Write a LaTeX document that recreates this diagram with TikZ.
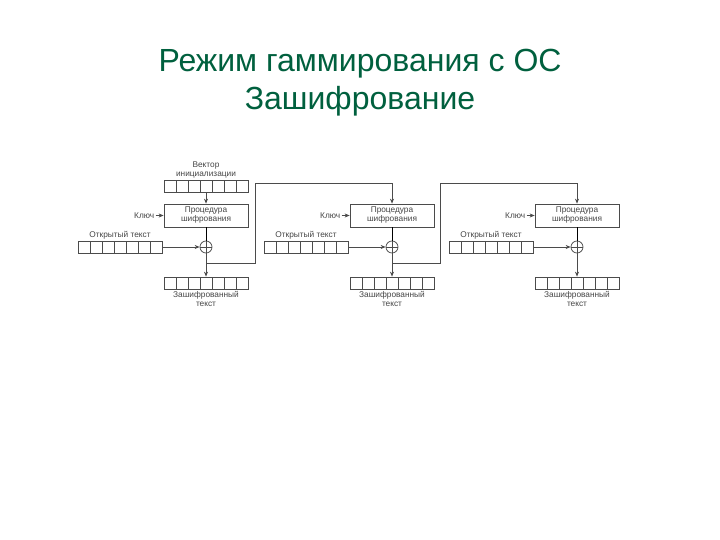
\documentclass[tikz,border=0pt]{standalone}
\usepackage{fontspec}
\setmainfont{Liberation Sans}
\usetikzlibrary{arrows.meta,positioning}
\definecolor{titlegreen}{RGB}{0,96,62}
\definecolor{linegray}{RGB}{75,75,75}
\definecolor{textgray}{RGB}{70,70,70}

\begin{document}
\begin{tikzpicture}[x=1pt,y=-1pt,line width=0.75pt,
    proc/.style={rectangle,draw=linegray,minimum width=84pt,minimum height=23pt,inner sep=0pt,align=center,font=\fontsize{8.3}{9}\selectfont,text=textgray},
    reg/.style={rectangle,draw=linegray,minimum width=84pt,minimum height=12pt,inner sep=0pt,
      path picture={\foreach \k in {1,...,6} \draw[linegray] ([xshift=\k*12pt]path picture bounding box.south west) -- ([xshift=\k*12pt]path picture bounding box.north west);}},
    xor/.style={circle,draw=linegray,minimum size=12pt,inner sep=0pt,
      path picture={\draw[linegray] (path picture bounding box.north) -- (path picture bounding box.south) (path picture bounding box.west) -- (path picture bounding box.east);}},
    lbl/.style={font=\fontsize{8.3}{9}\selectfont,text=textgray,inner sep=1pt,align=center},
    arrow/.style={-{Stealth[length=5pt,width=4pt]},draw=linegray}
  ]
    \useasboundingbox[fill=white] (0,0) rectangle (720,540);
    \node[font=\fontsize{32}{38}\selectfont,text=titlegreen,align=center] (title) at (360,83) {Режим гаммирования с ОС\\Зашифрование};

    % initial vector
    \node[reg] (iv) at (206,186) {};
    \node[lbl,above=0pt of iv] (ivlbl) {Вектор\\инициализации};

    % three encryption steps
    \foreach \i/\x in {1/206,2/392,3/577}{
      \node[proc] (proc\i) at (\x,215.5) {Процедура\\шифрования};
      \node[lbl,left=8pt of proc\i] (key\i) {Ключ};
      \node[xor] (xor\i) at (\x,247) {};
      \node[reg] (plain\i) at (\x-86,247) {};
      \node[lbl,above=0pt of plain\i] (plainlbl\i) {Открытый текст};
      \node[reg] (cipher\i) at (\x,283) {};
      \node[lbl,below=1pt of cipher\i] (cipherlbl\i) {Зашифрованный\\текст};
      \coordinate (tap\i) at (\x,263);
      \draw[arrow] (key\i) -- (proc\i);
      \draw (proc\i) -- (xor\i);
      \draw[arrow] (plain\i) -- (xor\i);
      \draw[arrow] (xor\i) -- (cipher\i);
    }
    \draw[arrow] (iv) -- (proc1);

    % feedback
    \coordinate (bend1) at (255,183);
    \coordinate (bend2) at (440,183);
    \draw[arrow] (tap1) -| (bend1) -| (proc2.north);
    \draw[arrow] (tap2) -| (bend2) -| (proc3.north);
  \end{tikzpicture}
\end{document}
